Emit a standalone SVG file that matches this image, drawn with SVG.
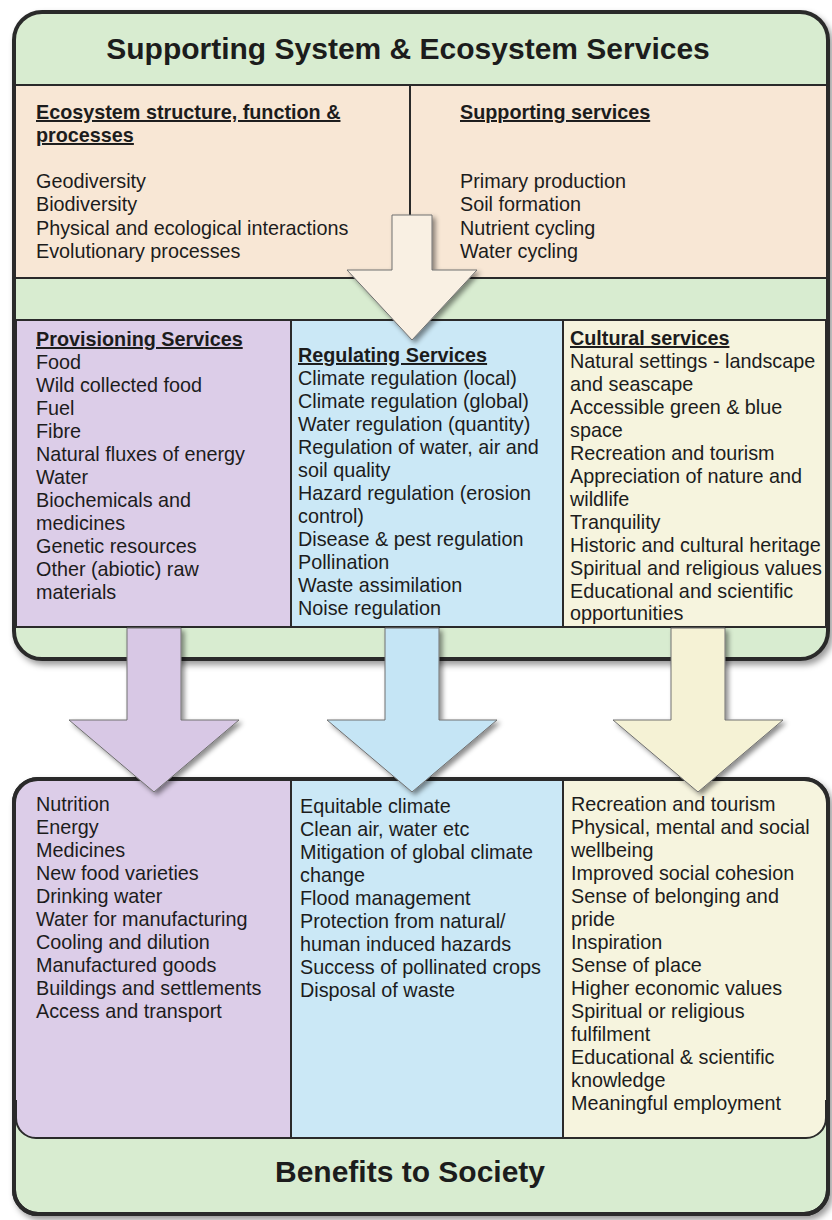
<svg xmlns="http://www.w3.org/2000/svg" width="832" height="1220" viewBox="0 0 832 1220">
<defs>
<filter id="shadow" x="-10%" y="-10%" width="120%" height="120%">
<feDropShadow dx="3" dy="4" stdDeviation="3" flood-color="#000" flood-opacity="0.4"/>
</filter>
<filter id="ashadow" x="-20%" y="-20%" width="140%" height="140%">
<feDropShadow dx="3" dy="3" stdDeviation="2.5" flood-color="#000" flood-opacity="0.45"/>
</filter>
<style>
text{font-family:"Liberation Sans",Arial,sans-serif;fill:#1c1c1c;}
.t{font-size:19.8px;}
.h{font-size:19.8px;font-weight:bold;text-decoration:underline;}
.title{font-size:30px;font-weight:bold;text-anchor:middle;}
.frame{fill:#d8ecd0;stroke:#2a2a2a;stroke-width:4;filter:url(#shadow);}
.cell{stroke:#2a2a2a;stroke-width:2;}
.line{stroke:#2a2a2a;stroke-width:2;fill:none;}
.prov{fill:#dccde8;}
.reg{fill:#cbe8f6;}
.cult{fill:#f6f4de;}
.peach{fill:#f8e7d5;}
.arrow{stroke:#707070;stroke-width:1;filter:url(#ashadow);}
</style>
</defs>
<rect width="832" height="1220" fill="#ffffff"/>

<g id="supporting-system">
<rect class="frame" x="14" y="12" width="814" height="647" rx="28"/>
<text class="title" x="408" y="59">Supporting System &amp; Ecosystem Services</text>
</g>

<g id="ecosystem-structure">
<rect class="peach" x="16" y="85" width="394" height="193"/>
<text class="h" x="36" y="119">Ecosystem structure, function &amp;</text>
<text class="h" x="36" y="142">processes</text>
<text class="t" x="36" y="188">Geodiversity<tspan x="36" y="211">Biodiversity</tspan><tspan x="36" y="235">Physical and ecological interactions</tspan><tspan x="36" y="258">Evolutionary processes</tspan></text>
</g>

<g id="supporting-services">
<rect class="peach" x="410" y="85" width="416" height="193"/>
<text class="h" x="460" y="119">Supporting services</text>
<text class="t" x="460" y="188">Primary production<tspan x="460" y="211">Soil formation</tspan><tspan x="460" y="235">Nutrient cycling</tspan><tspan x="460" y="258">Water cycling</tspan></text>
</g>
<path class="line" d="M16 85 H826 M16 278 H826 M410 85 V278"/>

<g id="provisioning-services">
<rect class="prov cell" x="16" y="320" width="275" height="307"/>
<text class="h" x="36" y="346">Provisioning Services</text>
<text class="t" x="36" y="369">Food<tspan x="36" y="392">Wild collected food</tspan><tspan x="36" y="415">Fuel</tspan><tspan x="36" y="438">Fibre</tspan><tspan x="36" y="461">Natural fluxes of energy</tspan><tspan x="36" y="484">Water</tspan><tspan x="36" y="507">Biochemicals and</tspan><tspan x="36" y="530">medicines</tspan><tspan x="36" y="553">Genetic resources</tspan><tspan x="36" y="576">Other (abiotic) raw</tspan><tspan x="36" y="599">materials</tspan></text>
</g>

<g id="regulating-services">
<rect class="reg cell" x="291" y="320" width="272" height="307"/>
<text class="h" x="298" y="362">Regulating Services</text>
<text class="t" x="298" y="385">Climate regulation (local)<tspan x="298" y="408">Climate regulation (global)</tspan><tspan x="298" y="431">Water regulation (quantity)</tspan><tspan x="298" y="454">Regulation of water, air and</tspan><tspan x="298" y="477">soil quality</tspan><tspan x="298" y="500">Hazard regulation (erosion</tspan><tspan x="298" y="523">control)</tspan><tspan x="298" y="546">Disease &amp; pest regulation</tspan><tspan x="298" y="569">Pollination</tspan><tspan x="298" y="592">Waste assimilation</tspan><tspan x="298" y="615">Noise regulation</tspan></text>
</g>

<g id="cultural-services">
<rect class="cult cell" x="563" y="320" width="263" height="307"/>
<text class="h" x="570" y="345">Cultural services</text>
<text class="t" x="570" y="368">Natural settings - landscape<tspan x="570" y="391">and seascape</tspan><tspan x="570" y="414">Accessible green &amp; blue</tspan><tspan x="570" y="437">space</tspan><tspan x="570" y="460">Recreation and tourism</tspan><tspan x="570" y="483">Appreciation of nature and</tspan><tspan x="570" y="506">wildlife</tspan><tspan x="570" y="529">Tranquility</tspan><tspan x="570" y="552">Historic and cultural heritage</tspan><tspan x="570" y="575">Spiritual and religious values</tspan><tspan x="570" y="598">Educational and scientific</tspan><tspan x="570" y="620">opportunities</tspan></text>
</g>

<g id="benefits-to-society">
<rect class="frame" x="14" y="779" width="814" height="435" rx="24"/>
<text class="title" x="410" y="1182">Benefits to Society</text>
</g>

<g id="provisioning-benefits">
<path class="prov" d="M36 781 H291 V1138 H36 A20 20 0 0 1 16 1118 V801 A20 20 0 0 1 36 781 Z"/>
<text class="t" x="36" y="811">Nutrition<tspan x="36" y="834">Energy</tspan><tspan x="36" y="857">Medicines</tspan><tspan x="36" y="880">New food varieties</tspan><tspan x="36" y="903">Drinking water</tspan><tspan x="36" y="926">Water for manufacturing</tspan><tspan x="36" y="949">Cooling and dilution</tspan><tspan x="36" y="972">Manufactured goods</tspan><tspan x="36" y="995">Buildings and settlements</tspan><tspan x="36" y="1018">Access and transport</tspan></text>
</g>

<g id="regulating-benefits">
<rect class="reg" x="291" y="781" width="272" height="357"/>
<text class="t" x="300" y="813">Equitable climate<tspan x="300" y="836">Clean air, water etc</tspan><tspan x="300" y="859">Mitigation of global climate</tspan><tspan x="300" y="882">change</tspan><tspan x="300" y="905">Flood management</tspan><tspan x="300" y="928">Protection from natural/</tspan><tspan x="300" y="951">human induced hazards</tspan><tspan x="300" y="974">Success of pollinated crops</tspan><tspan x="300" y="997">Disposal of waste</tspan></text>
</g>

<g id="cultural-benefits">
<path class="cult" d="M563 781 H806 A20 20 0 0 1 826 801 V1118 A20 20 0 0 1 806 1138 H563 Z"/>
<text class="t" x="571" y="811">Recreation and tourism<tspan x="571" y="834">Physical, mental and social</tspan><tspan x="571" y="857">wellbeing</tspan><tspan x="571" y="880">Improved social cohesion</tspan><tspan x="571" y="903">Sense of belonging and</tspan><tspan x="571" y="926">pride</tspan><tspan x="571" y="949">Inspiration</tspan><tspan x="571" y="972">Sense of place</tspan><tspan x="571" y="995">Higher economic values</tspan><tspan x="571" y="1018">Spiritual or religious</tspan><tspan x="571" y="1041">fulfilment</tspan><tspan x="571" y="1064">Educational &amp; scientific</tspan><tspan x="571" y="1087">knowledge</tspan><tspan x="571" y="1110">Meaningful employment</tspan></text>
</g>
<path class="line" d="M16 1100 V1118 A20 20 0 0 0 36 1138 H806 A20 20 0 0 0 826 1118 V1100 M291 781 V1138 M563 781 V1138"/>
<rect x="14" y="779" width="814" height="435" rx="24" fill="none" stroke="#2a2a2a" stroke-width="4"/>

<g id="connectors">
<polygon class="arrow" fill="#f9f0e3" points="392,215 432,215 432,270 477,270 412,340 347,270 392,270"/>
<polygon class="arrow" fill="#d8c8e5" points="127,628 181,628 181,720 239,720 154,792 69,720 127,720"/>
<polygon class="arrow" fill="#c5e5f5" points="385,628 439,628 439,720 497,720 412,792 327,720 385,720"/>
<polygon class="arrow" fill="#f5f2d5" points="671,628 725,628 725,720 783,720 698,792 613,720 671,720"/>
</g>
</svg>
